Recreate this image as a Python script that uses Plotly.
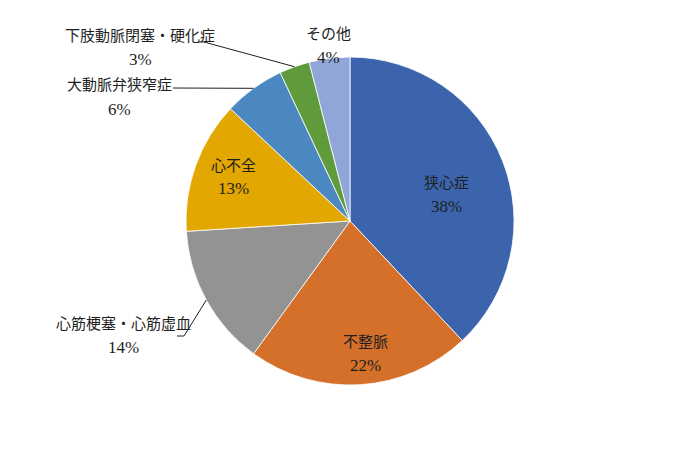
import math
import plotly.graph_objects as go

# ---- data ----
categories = ["狭心症", "不整脈", "心筋梗塞・心筋虚血", "心不全", "大動脈弁狭窄症", "下肢動脈閉塞・硬化症", "その他"]
shares = [38, 22, 14, 13, 6, 3, 4]

# ---- styles ----
colors = ["#3B64AD", "#D5702B", "#939393", "#E2A700", "#4B87C0", "#5F9A3B", "#8FA6D6"]
W, H = 700, 450
CX, CY, R = 350, 221, 164

# label text centres (pixels): name line; percent line sits 25px lower
label_pos = {
    "狭心症": (446, 182),
    "不整脈": (365, 340),
    "心筋梗塞・心筋虚血": (123, 322),
    "心不全": (233, 164),
    "大動脈弁狭窄症": (119, 84),
    "下肢動脈閉塞・硬化症": (140, 34),
    "その他": (328, 32),
}
# leader line bend points (pixels) for outside labels
leader_pts = {
    "心筋梗塞・心筋虚血": [(184, 336), (177, 336)],
    "大動脈弁狭窄症": [(173, 88)],
    "下肢動脈閉塞・硬化症": [(204, 42), (198, 42)],
}

def px(x):
    return x / W

def py(y):
    return 1 - y / H

fig = go.Figure(go.Pie(
    labels=categories,
    values=shares,
    sort=False,
    direction="clockwise",
    rotation=0,
    marker=dict(colors=colors, line=dict(color="white", width=0.8)),
    textinfo="none",
    hoverinfo="label+percent",
    showlegend=False,
    domain=dict(x=[px(CX - R), px(CX + R)], y=[py(CY + R), py(CY - R)]),
))

total = sum(shares)
annotations = []
shapes = []
cum = 0
for name, v in zip(categories, shares):
    mid = (cum + v / 2) / total * 2 * math.pi
    cum += v
    pct = f"{round(v / total * 100)}%"
    lx, ly = label_pos[name]
    annotations.append(dict(x=px(lx), y=py(ly), xref="paper", yref="paper", text=name,
                            showarrow=False, xanchor="center", yanchor="middle",
                            font=dict(family="Noto Sans CJK JP", size=15, color="#1f1f1f")))
    annotations.append(dict(x=px(lx), y=py(ly + 25), xref="paper", yref="paper", text=pct,
                            showarrow=False, xanchor="center", yanchor="middle",
                            font=dict(family="Liberation Serif", size=17, color="#1f1f1f")))
    if name in leader_pts:
        ex = CX + R * math.sin(mid)
        ey = CY - R * math.cos(mid)
        pts = [(ex, ey)] + leader_pts[name]
        path = "M " + " L ".join(f"{px(x)},{py(y)}" for x, y in pts)
        shapes.append(dict(type="path", path=path, xref="paper", yref="paper",
                           line=dict(color="#1f1f1f", width=1)))

fig.update_layout(
    width=W, height=H,
    margin=dict(l=0, r=0, t=0, b=0),
    paper_bgcolor="white", plot_bgcolor="white",
    annotations=annotations, shapes=shapes,
)

fig.write_html("out.html", config={"displayModeBar": False},
               post_script="document.body.style.margin='0px';")
